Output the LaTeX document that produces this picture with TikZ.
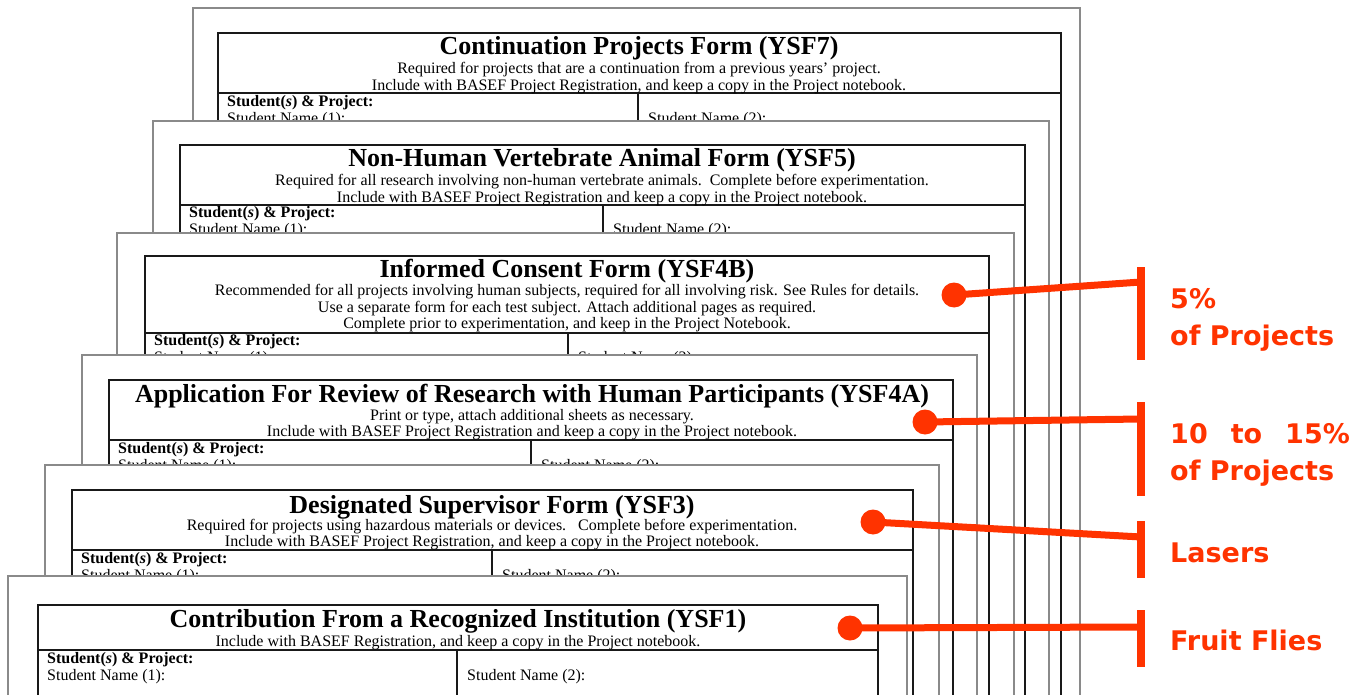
\documentclass[tikz,border=0pt]{standalone}
\usepackage{fontspec}
\setmainfont{Liberation Serif}
\newfontfamily\calloutfont{DejaVu Sans}
\usepackage{xcolor}
\usetikzlibrary{positioning}
\definecolor{callc}{HTML}{FF3300}
\definecolor{sheetc}{HTML}{8A8A8A}
\tikzset{
  sheet/.style={draw=sheetc,line width=1.2pt,fill=white},
  formbox/.style={draw=black!90,line width=2.6pt},
  ftitle/.style={font=\bfseries\fontsize{26}{28}\selectfont,inner sep=0pt},
  fnote/.style={font=\fontsize{16}{16.5}\selectfont,align=center,inner sep=0pt,anchor=north},
  fcell/.style={font=\fontsize{16}{17}\selectfont,inner sep=0pt,anchor=west},
  calldot/.style={circle,fill=callc,minimum size=25pt,inner sep=0pt},
  callline/.style={callc,line width=7pt},
  callbar/.style={callc,line width=8pt},
  calltext/.style={text=callc,font=\calloutfont\bfseries\fontsize{27}{37}\selectfont,anchor=base west,inner sep=0pt}
}
% sheet left, sheet top, sheet right, box left, box top, box right, header bottom, divider
\newcommand{\formsheet}[8]{%
  \path[sheet] (#1,720) -- (#1,#2) -- (#3,#2) -- (#3,720);
  \draw[formbox] (#4,720) -- (#4,#5) -- (#6,#5) -- (#6,720);
  \draw[formbox] (#4,#7) -- (#6,#7);
  \draw[formbox] (#8,#7) -- (#8,720);
}
\newcommand{\studentrow}{\textbf{Student(\textit{s}) \& Project:}}

\begin{document}
\begin{tikzpicture}[x=1pt,y=-1pt]
\useasboundingbox[fill=white] (0,0) rectangle (1362,695);

% YSF7
\formsheet{193}{8}{1080}{218}{33}{1061}{93}{638}
\node[ftitle] (t7) at (639,48) {Continuation Projects Form (YSF7)};
\node[fnote] (n7) at (639,62.5) {Required for projects that are a continuation from a previous years' project.\\
  Include with BASEF Project Registration, and keep a copy in the Project notebook.};
\node[fcell] (s7) at (227,103) {\studentrow};
\node[fcell] (a7) at (227,120) {Student Name (1):};
\node[fcell] (b7) at (648,120) {Student Name (2):};

% YSF5
\formsheet{153}{121}{1049}{180}{145}{1025}{205}{603}
\node[ftitle] (t5) at (602,160) {Non-Human Vertebrate Animal Form (YSF5)};
\node[fnote] (n5) at (602,174.5) {Required for all research involving non-human vertebrate animals.\ \ Complete before experimentation.\\
  Include with BASEF Project Registration and keep a copy in the Project notebook.};
\node[fcell] (s5) at (189,214) {\studentrow};
\node[fcell] (a5) at (189,231) {Student Name (1):};
\node[fcell] (b5) at (613,231) {Student Name (2):};

% YSF4B
\formsheet{117}{233}{1014}{145}{256}{989}{333}{568}
\node[ftitle] (t4b) at (567,271) {Informed Consent Form (YSF4B)};
\node[fnote] (n4b) at (567,284.5) {Recommended for all projects involving human subjects, required for all involving risk. See Rules for details.\\
  Use a separate form for each test subject. Attach additional pages as required.\\
  Complete prior to experimentation, and keep in the Project Notebook.};
\node[fcell] (s4b) at (154,342) {\studentrow};
\node[fcell] (a4b) at (154,359) {Student Name (1):};
\node[fcell] (b4b) at (578,359) {Student Name (2):};

% YSF4A
\formsheet{82}{355}{977}{109}{380}{953}{440}{531}
\node[ftitle] (t4a) at (532,396) {Application For Review of Research with Human Participants (YSF4A)};
\node[fnote] (n4a) at (532,409) {Print or type, attach additional sheets as necessary.\\
  Include with BASEF Project Registration and keep a copy in the Project notebook.};
\node[fcell] (s4a) at (118,450) {\studentrow};
\node[fcell] (a4a) at (118,467) {Student Name (1):};
\node[fcell] (b4a) at (541,467) {Student Name (2):};

% YSF3
\formsheet{45}{465}{939}{72}{490}{913}{550}{492}
\node[ftitle] (t3) at (492,507) {Designated Supervisor Form (YSF3)};
\node[fnote] (n3) at (492,519) {Required for projects using hazardous materials or devices.\ \ \ Complete before experimentation.\\
  Include with BASEF Project Registration, and keep a copy in the Project notebook.};
\node[fcell] (s3) at (81,560) {\studentrow};
\node[fcell] (a3) at (81,577) {Student Name (1):};
\node[fcell] (b3) at (502,577) {Student Name (2):};

% YSF1
\formsheet{8}{576}{907}{38}{605}{878}{650}{457}
\node[ftitle] (t1) at (458,621) {Contribution From a Recognized Institution (YSF1)};
\node[fnote] (n1) at (458,635) {Include with BASEF Registration, and keep a copy in the Project notebook.};
\node[fcell] (s1) at (47,660) {\studentrow};
\node[fcell] (a1) at (47,677) {Student Name (1):};
\node[fcell] (b1) at (467,677) {Student Name (2):};

% callouts
\foreach \n/\dx/\dy/\by/\bt/\bb in {1/954/295/282/267/360, 2/925/422/419/402/496, 3/873/522/537/521/578, 4/850/628/627/610/667}{
  \node[calldot] (dot\n) at (\dx,\dy) {};
  \coordinate (bar\n) at (1141,\by);
  \coordinate (bartop\n) at (1141,\bt);
  \coordinate (barbot\n) at (1141,\bb);
  \draw[callline] (dot\n.center) -- (bar\n);
  \draw[callbar] (bartop\n) -- (barbot\n);
}
\node[calltext] (lab1a) at (1170,308) {5\%};
\node[calltext] (lab1b) at (1170,345) {of Projects};
\node[calltext] (lab2a) at (1170,443) {10\hspace{23pt}to\hspace{23pt}15\%};
\node[calltext] (lab2b) at (1170,480) {of Projects};
\node[calltext] (lab3) at (1170,562) {Lasers};
\node[calltext] (lab4) at (1170,650) {Fruit Flies};
\end{tikzpicture}
\end{document}
